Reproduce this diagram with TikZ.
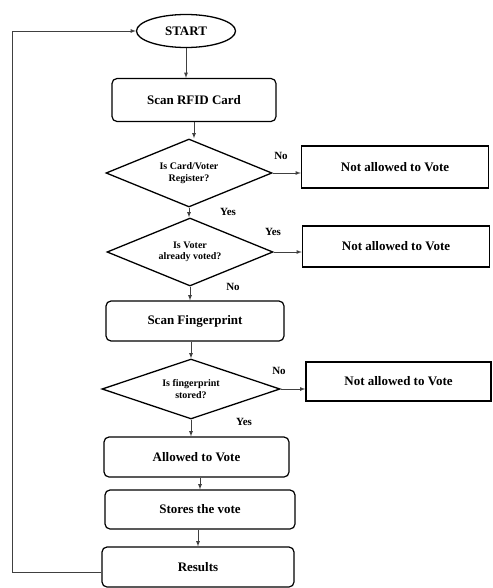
\documentclass[tikz,border=0pt]{standalone}
\usepackage{fontspec}
\setmainfont{Liberation Serif}
\usetikzlibrary{arrows,shapes.geometric,calc}

\begin{document}
\begin{tikzpicture}[x=1pt,y=-1pt,>=latex,
	terminal/.style={draw,ellipse,line width=1.3pt,inner sep=0pt,minimum width=99pt,minimum height=33pt,font=\fontsize{13}{15}\selectfont\bfseries},
	process/.style={draw,rounded corners=5pt,line width=1.2pt,inner sep=0pt,minimum height=40pt,font=\fontsize{13}{15}\selectfont\bfseries},
	decision/.style={draw,diamond,aspect=2.5,line width=1.3pt,inner sep=0pt,align=center,font=\fontsize{10}{11.5}\selectfont\bfseries},
	refuse/.style={draw,line width=1.5pt,inner sep=0pt,minimum width=187pt,minimum height=41pt,font=\fontsize{13}{15}\selectfont\bfseries},
	flow/.style={->,line width=0.8pt,draw=black!75},
	answer/.style={font=\fontsize{11}{13}\selectfont\bfseries}]

	\useasboundingbox (0,0) rectangle (492,588);

	% main column
	\node[terminal] (start) at (186,31) {START};
	\node[process,minimum width=164pt,minimum height=43pt] (scan) at (194,100) {Scan RFID Card};
	\node[decision,minimum width=166pt,minimum height=68pt] (reg) at (189,173) {Is Card/Voter\\Register?};
	\node[decision,minimum width=166pt,minimum height=68pt] (voted) at (190,252) {Is Voter\\already voted?};
	\node[process,minimum width=178pt] (finger) at (195,321) {Scan Fingerprint};
	\node[decision,minimum width=178pt,minimum height=60pt] (stored) at (191,389) {Is fingerprint\\stored?};
	\node[process,minimum width=185pt] (allow) at (196.5,457) {Allowed to Vote};
	\node[process,minimum width=190pt,minimum height=39pt] (store) at (200,509.5) {Stores the vote};
	\node[process,minimum width=192pt] (results) at (198,567) {Results};

	% refusals
	\node[refuse,minimum height=42pt] (noreg) at (395,167) {Not allowed to Vote};
	\node[refuse] (novote) at (396,246.5) {Not allowed to Vote};
	\node[refuse,minimum width=185pt,minimum height=39pt] (nofinger) at (398.5,381.5) {Not allowed to Vote};

	% connectors
	\draw[flow] (start) -- (start |- scan.north);
	\draw[flow] (scan) -- (scan |- reg.north);
	\draw[flow] (reg) -- (reg |- voted.north);
	\draw[flow] (voted) -- (voted |- finger.north);
	\draw[flow] (stored.north |- finger.south) -- (stored.north);
	\draw[flow] (stored) -- (stored |- allow.north);
	\draw[flow] (allow.south -| store.north) -- (store.north);
	\draw[flow] (store.south -| results.north) -- (results.north);
	\draw[flow] (reg.east) -- (reg.east -| noreg.west);
	\draw[flow] (voted.east) -- (voted.east -| novote.west);
	\draw[flow] (stored.east) -- (stored.east -| nofinger.west);
	\coordinate (loopbot) at (12,572);
	\draw[flow] ([yshift=-5pt]results.west) -- (loopbot) |- (start.west);

	% answers
	\node[answer] (n1) at (281,156) {No};
	\node[answer] (y1) at (228,212) {Yes};
	\node[answer] (y2) at (273,232) {Yes};
	\node[answer] (n2) at (233,287) {No};
	\node[answer] (n3) at (279,371) {No};
	\node[answer] (y3) at (244,422) {Yes};

\end{tikzpicture}
\end{document}
